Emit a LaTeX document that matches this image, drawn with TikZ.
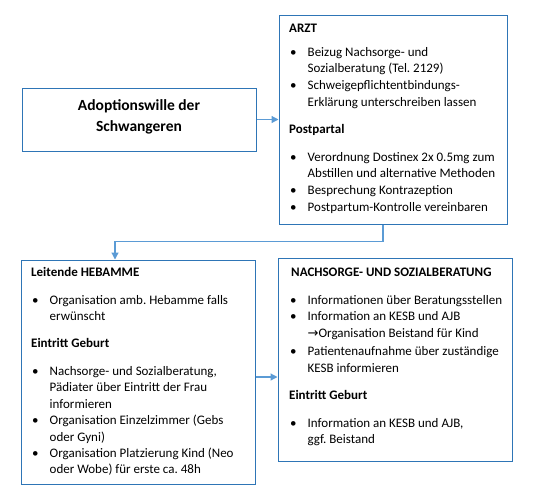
\documentclass[tikz,border=0pt]{standalone}
\usepackage{fontspec}
\setmainfont{Carlito}
\newfontfamily\arrowfont{DejaVu Sans}
\usetikzlibrary{arrows.meta,calc}
\definecolor{boxblue}{HTML}{2E75B6}
\definecolor{linkblue}{HTML}{5B9BD5}
\newcommand\bitem[1]{\par\hangindent=18.5pt\hangafter=1\noindent\hbox to 18.5pt{\hskip1pt\textbullet\hfil}#1}
\newcommand\bhead[1]{\par\noindent\textbf{#1}}
\newcommand\gap[1]{\par\vspace{#1}}
\newcommand\boxbody[1]{\begin{minipage}[t]{225pt}\fontsize{13}{16.4}\selectfont\frenchspacing\parindent=0pt\parskip=0pt #1\end{minipage}}
\tikzset{
  box/.style={draw=boxblue, line width=1pt, rectangle, inner sep=0pt},
  boxtext/.style={anchor=base west, inner sep=0pt},
  link/.style={draw=linkblue, line width=1.2pt, -{Triangle[length=7pt,width=7pt]}},
}
\begin{document}
\begin{tikzpicture}[x=1pt,y=-1pt]
\useasboundingbox (0,0) rectangle (535,496);
% boxes
\node[box, minimum width=234, minimum height=63] (will) at (139,119.5) {};
\node[box, minimum width=228, minimum height=209] (arzt) at (393,119.5) {};
\node[box, minimum width=234, minimum height=224] (heb) at (138,372) {};
\node[box, minimum width=234, minimum height=203] (nach) at (395,359.5) {};
% texts
\node[font=\bfseries\fontsize{15.5}{21}\selectfont, align=center] (willtext) at (139,117) {Adoptionswille der\\Schwangeren};
\node[boxtext] (arzttext) at (289,32) {\boxbody{%
\bhead{ARZT}\gap{7.6pt}
\bitem{Beizug Nachsorge- und\\Sozialberatung (Tel. 2129)}\gap{1pt}
\bitem{Schweigepflichtentbindungs-\\Erklärung unterschreiben lassen}\gap{10.6pt}
\bhead{Postpartal}\gap{11.6pt}
\bitem{Verordnung Dostinex 2x 0.5mg zum\\Abstillen und alternative Methoden}\gap{0.5pt}
\bitem{Besprechung Kontrazeption}\gap{0.5pt}
\bitem{Postpartum-Kontrolle vereinbaren}}};
\node[boxtext] (hebtext) at (31,276) {\boxbody{%
\bhead{Leitende HEBAMME}\gap{11.6pt}
\bitem{Organisation amb. Hebamme falls\\erwünscht}\gap{10.6pt}
\bhead{Eintritt Geburt}\gap{11.6pt}
\bitem{Nachsorge- und Sozialberatung,\\Pädiater über Eintritt der Frau\\informieren}
\bitem{Organisation Einzelzimmer (Gebs\\oder Gyni)}
\bitem{Organisation Platzierung Kind (Neo\\oder Wobe) für erste ca. 48h}}};
\node[boxtext] (nachtext) at (289,276) {\boxbody{%
\bhead{\hskip2pt NACHSORGE- UND SOZIALBERATUNG}\gap{11.6pt}
\bitem{Informationen über Beratungsstellen}\gap{0.5pt}
\bitem{Information an KESB und AJB\\{\arrowfont\fontsize{13}{16.4}\selectfont →}Organisation Beistand für Kind}\gap{2pt}
\bitem{Patientenaufnahme über zuständige\\KESB informieren}\gap{10.6pt}
\bhead{Eintritt Geburt}\gap{11.6pt}
\bitem{Information an KESB und AJB,\\ggf. Beistand}}};
% connectors
\draw[link] (will.east) -- (arzt.west);
\draw[link] ($(arzt.south)+(-10,0)$) -- ++(0,17) -| ($(heb.north)+(-23,0)$);
\coordinate (hn) at ($(heb.east)+(0,5)$);
\draw[link] (hn) -- (hn -| nach.west);
\end{tikzpicture}
\end{document}
